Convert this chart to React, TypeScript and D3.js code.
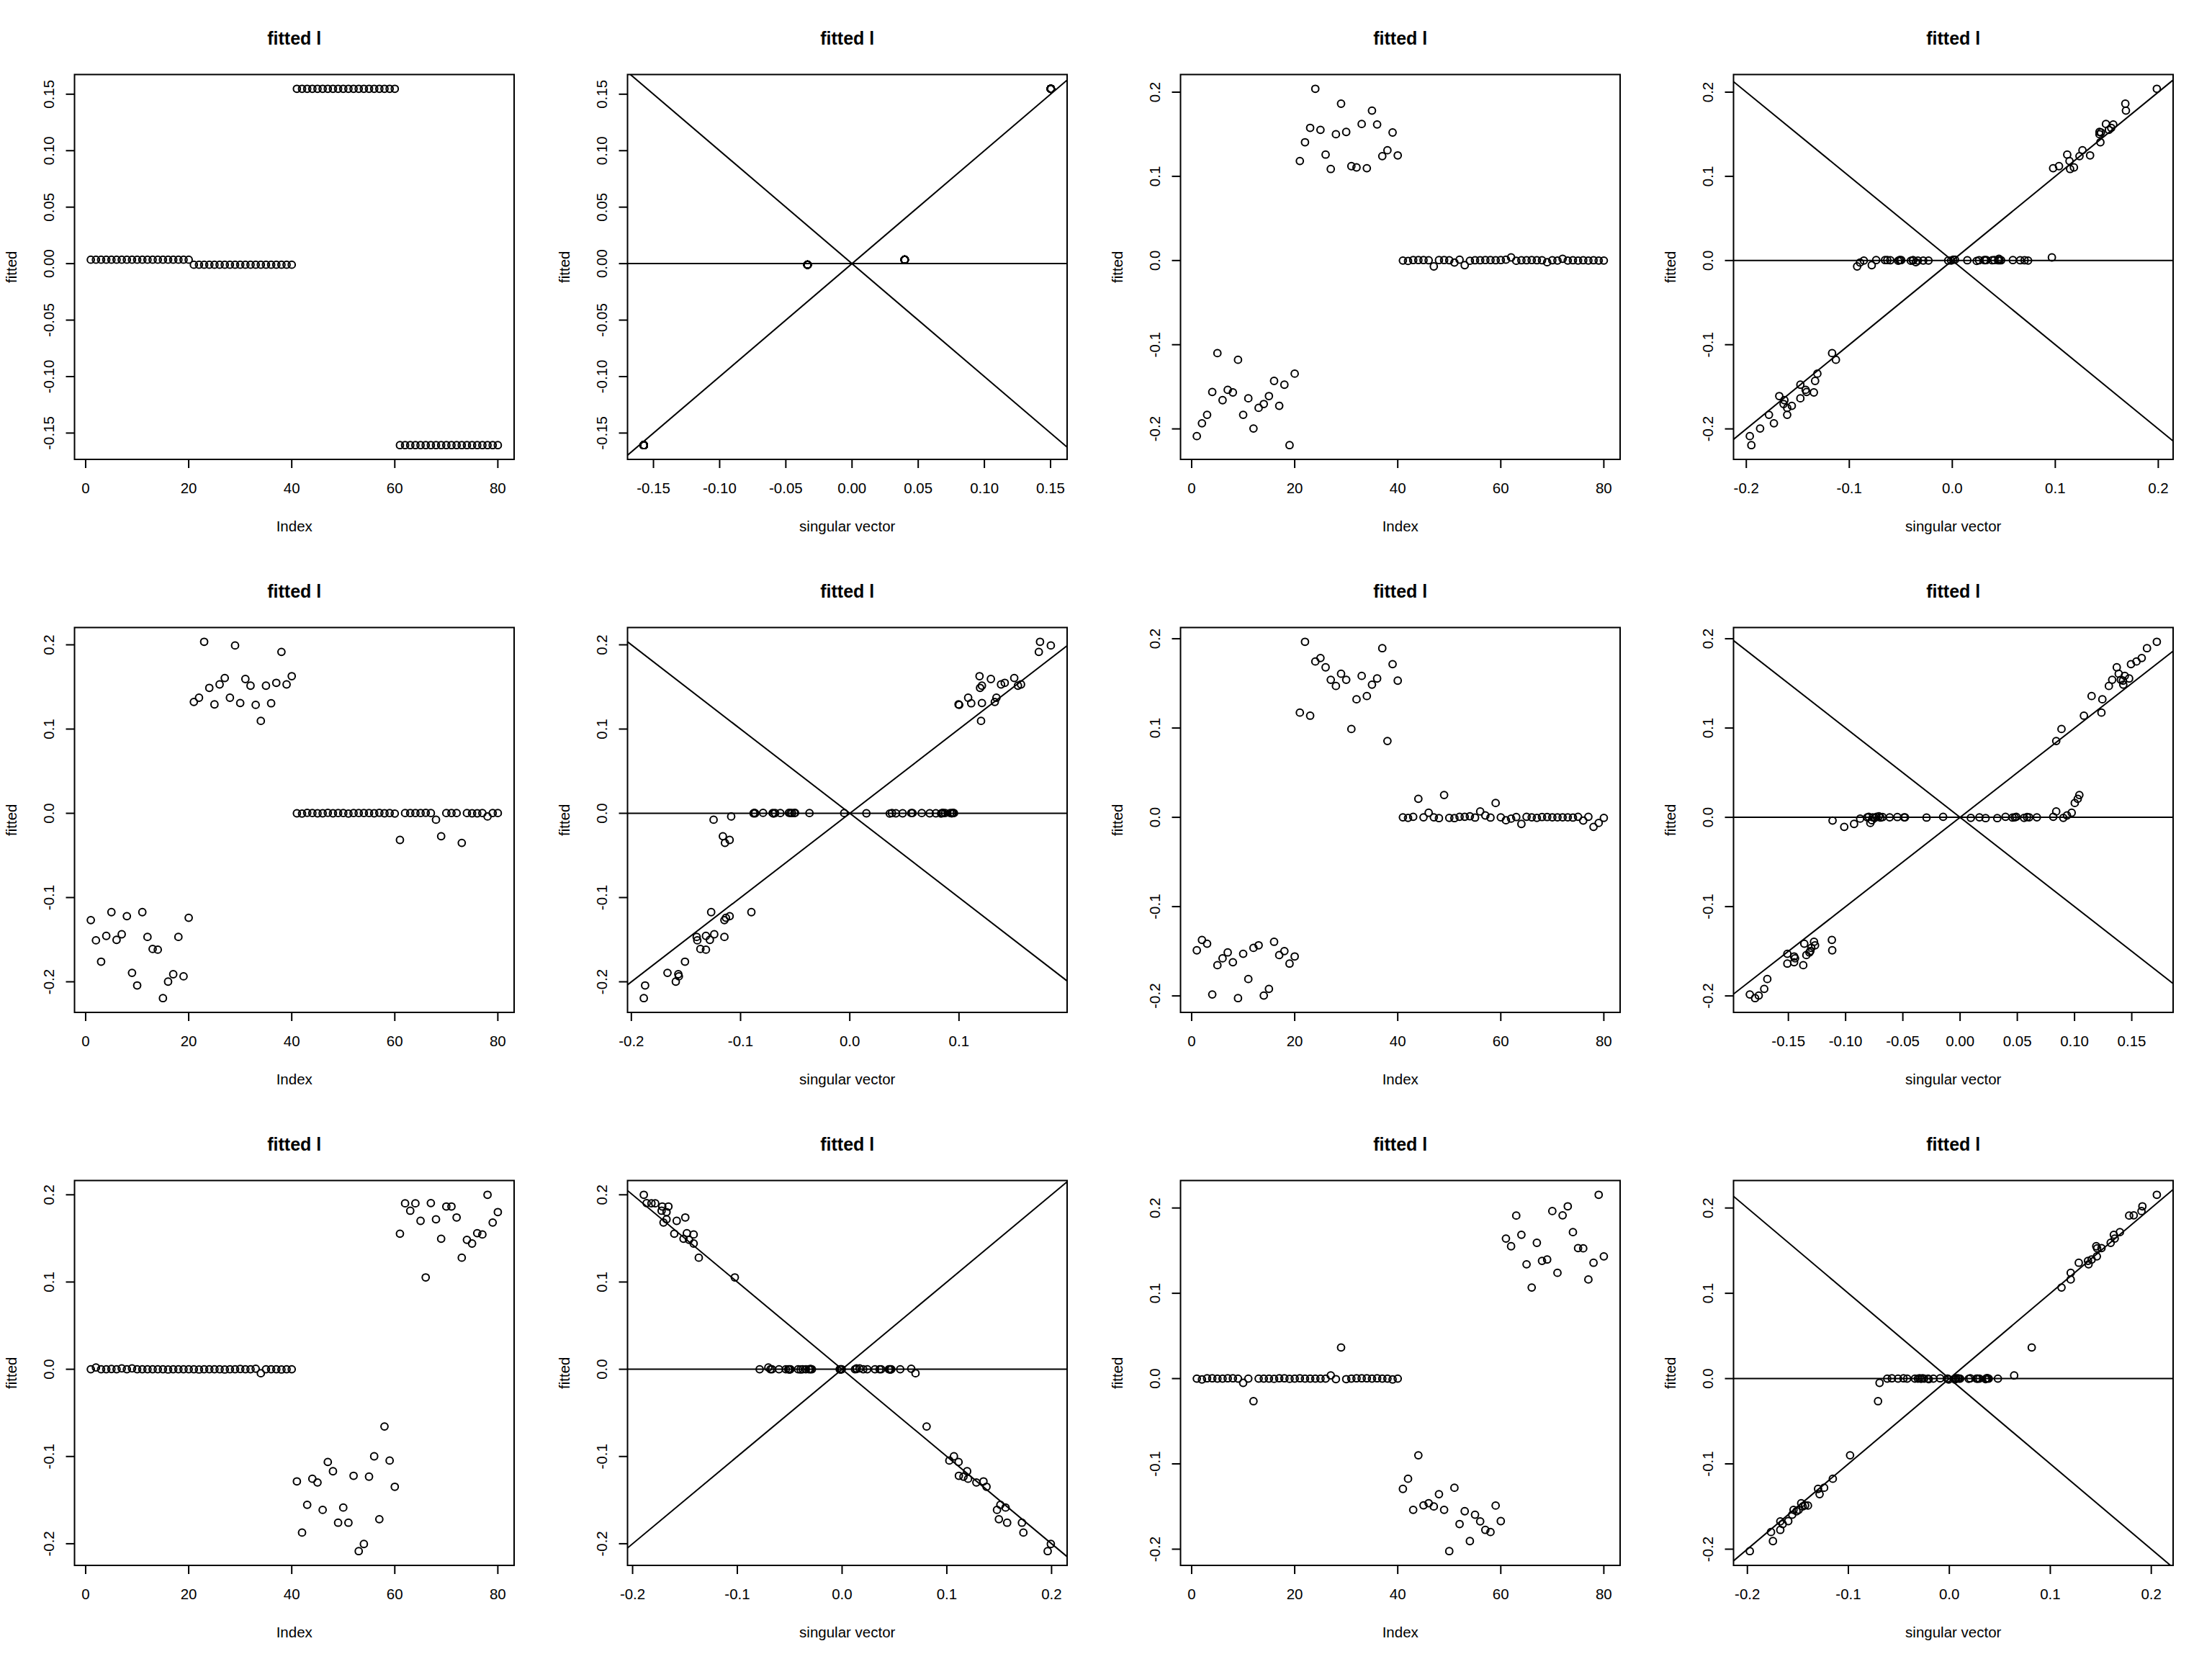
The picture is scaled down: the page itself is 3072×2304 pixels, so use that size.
import React from 'react';
import * as d3 from 'd3';

// fitted values and singular vectors, one pair per (Index, scatter) couple of panels
const fitted1 = [
  0.0035, 0.0035, 0.0035, 0.0035, 0.0035, 0.0035, 0.0035, 0.0035, 0.0035, 0.0035,
  0.0035, 0.0035, 0.0035, 0.0035, 0.0035, 0.0035, 0.0035, 0.0035, 0.0035, 0.0035,
  -0.001, -0.001, -0.001, -0.001, -0.001, -0.001, -0.001, -0.001, -0.001, -0.001,
  -0.001, -0.001, -0.001, -0.001, -0.001, -0.001, -0.001, -0.001, -0.001, -0.001,
  0.1548, 0.1548, 0.1548, 0.1548, 0.1548, 0.1548, 0.1548, 0.1548, 0.1548, 0.1548,
  0.1548, 0.1548, 0.1548, 0.1548, 0.1548, 0.1548, 0.1548, 0.1548, 0.1548, 0.1548,
  -0.1607, -0.1607, -0.1607, -0.1607, -0.1607, -0.1607, -0.1607, -0.1607, -0.1607, -0.1607,
  -0.1607, -0.1607, -0.1607, -0.1607, -0.1607, -0.1607, -0.1607, -0.1607, -0.1607, -0.1607,
];
const singular1 = [
  0.0398, 0.0398, 0.0398, 0.0398, 0.0398, 0.0398, 0.0398, 0.0398, 0.0398, 0.0398,
  0.0398, 0.0398, 0.0398, 0.0398, 0.0398, 0.0398, 0.0398, 0.0398, 0.0398, 0.0398,
  -0.0336, -0.0336, -0.0336, -0.0336, -0.0336, -0.0336, -0.0336, -0.0336, -0.0336, -0.0336,
  -0.0336, -0.0336, -0.0336, -0.0336, -0.0336, -0.0336, -0.0336, -0.0336, -0.0336, -0.0336,
  0.1502, 0.1502, 0.1502, 0.1502, 0.1502, 0.1502, 0.1502, 0.1502, 0.1502, 0.1502,
  0.1502, 0.1502, 0.1502, 0.1502, 0.1502, 0.1502, 0.1502, 0.1502, 0.1502, 0.1502,
  -0.1573, -0.1573, -0.1573, -0.1573, -0.1573, -0.1573, -0.1573, -0.1573, -0.1573, -0.1573,
  -0.1573, -0.1573, -0.1573, -0.1573, -0.1573, -0.1573, -0.1573, -0.1573, -0.1573, -0.1573,
];

const fitted2 = [
  -0.2086, -0.1933, -0.1833, -0.1561, -0.110, -0.1659, -0.1536, -0.1567, -0.1179, -0.1833,
  -0.1637, -0.1995, -0.175, -0.1704, -0.161, -0.143, -0.1726, -0.1475, -0.2193, -0.1344,
  0.1182, 0.1405, 0.1576, 0.204, 0.1552, 0.1258, 0.1087, 0.15, 0.1863, 0.1527,
  0.1121, 0.1106, 0.1622, 0.1097, 0.1781, 0.1616, 0.124, 0.131, 0.1521, 0.1249,
  0, -0.0005, 0.0005, 0.0005, 0.0005, 0.0003, -0.007, 0.0005, 0.0005, 0.0003,
  -0.0024, 0.001, -0.0055, -0.0003, 0.0003, 0.0003, 0.0005, 0.0005, 0.0003, 0.0005,
  0.001, 0.0037, -0.0003, 0.0003, 0.0003, 0.0005, 0.0003, 0.0003, -0.002, 0.0003,
  0, 0.002, 0, 0.0003, 0, 0.0003, 0, 0.0003, 0, 0,
];
const singular2 = [
  -0.1966, -0.1732, -0.178, -0.1415, -0.1167, -0.163, -0.1424, -0.1344, -0.113, -0.1603,
  -0.1475, -0.1866, -0.1603, -0.1638, -0.168, -0.1332, -0.1558, -0.1475, -0.1951, -0.131,
  0.1138, 0.1438, 0.1543, 0.1986, 0.152, 0.1116, 0.1144, 0.1429, 0.168, 0.1429,
  0.1036, 0.1181, 0.1492, 0.0979, 0.1686, 0.1563, 0.1235, 0.1264, 0.1444, 0.1338,
  -0.0859, 0.0237, -0.0739, 0.0408, -0.0653, 0.0146, -0.0924, -0.0631, 0.0588, -0.0602,
  -0.0896, 0.0009, -0.0782, -0.0525, 0.026, -0.0511, 0.0311, -0.0511, 0.0659, -0.0496,
  0.0026, 0.0967, -0.0402, 0.0318, -0.0382, 0.0331, -0.038, 0.0388, -0.0354, 0.0445,
  -0.0334, 0.0453, -0.0282, 0.0459, -0.0231, 0.0474, -0.004, 0.0702, -0.0011, 0.0736,
];

const fitted3 = [
  -0.1268, -0.1508, -0.1761, -0.1455, -0.1173, -0.1502, -0.1436, -0.1221, -0.1894, -0.2043,
  -0.1173, -0.1467, -0.161, -0.1619, -0.2194, -0.1998, -0.191, -0.1467, -0.1935, -0.124,
  0.1322, 0.1372, 0.2036, 0.1489, 0.1293, 0.153, 0.1606, 0.1372, 0.1992, 0.1309,
  0.1594, 0.1515, 0.1287, 0.1097, 0.1515, 0.1306, 0.1549, 0.1916, 0.153, 0.1628,
  0, -0.0003, 0.0005, 0.0003, 0, 0, 0.0005, 0, 0.0003, 0.0003,
  -0.0003, 0.0003, 0.0003, 0.0003, 0.0003, 0, 0.0006, 0, 0.0003, -0.0003,
  -0.0316, 0.0003, 0.0003, 0.0003, 0.0003, 0.0005, 0.0003, -0.0076, -0.0272, 0.0003,
  0.0003, 0.0003, -0.0351, 0.0003, 0, 0, 0.0003, -0.0038, 0.0003, 0.0003,
];
const singular3 = [
  -0.1148, -0.1396, -0.1509, -0.1317, -0.1269, -0.1281, -0.1241, -0.11, -0.1669, -0.1874,
  -0.0901, -0.1402, -0.1368, -0.1317, -0.1886, -0.1593, -0.157, -0.1148, -0.1565, -0.1134,
  0.1328, 0.1084, 0.1742, 0.1193, 0.0996, 0.1385, 0.1506, 0.1343, 0.1841, 0.121,
  0.1292, 0.121, 0.1002, 0.1202, 0.154, 0.1112, 0.1419, 0.1731, 0.1568, 0.1188,
  -0.0881, 0.0366, -0.0873, 0.0386, -0.0867, 0.0422, -0.0794, 0.0484, -0.0706, 0.0563,
  -0.0698, 0.0574, -0.0684, 0.0659, -0.0636, 0.0732, -0.0557, 0.0788, -0.0543, 0.0836,
  -0.11, -0.0529, 0.0844, -0.0507, 0.085, -0.0501, 0.0856, -0.1247, -0.1162, -0.0369,
  0.0873, -0.0051, -0.1143, 0.092, 0.0152, 0.0934, 0.0943, -0.1086, 0.0948, 0.0954,
];

const fitted4 = [
  -0.1489, -0.1373, -0.1415, -0.1984, -0.1656, -0.1579, -0.1513, -0.1623, -0.2025, -0.1528,
  -0.1811, -0.1462, -0.1433, -0.1996, -0.1921, -0.1394, -0.1543, -0.1498, -0.1638, -0.1558,
  0.1173, 0.1966, 0.1138, 0.1745, 0.1784, 0.168, 0.154, 0.1471, 0.1608, 0.154,
  0.0989, 0.1322, 0.1584, 0.1358, 0.1486, 0.1555, 0.1894, 0.0855, 0.1716, 0.1531,
  0, -0.0006, 0.0006, 0.0208, 0, 0.0051, 0, -0.0009, 0.025, -0.0006,
  -0.0009, 0.0006, 0.0006, 0.0012, -0.0003, 0.0066, 0.0021, -0.0003, 0.0161, 0,
  -0.0033, -0.0015, 0.0003, -0.0074, 0.0006, 0, -0.0006, 0.0003, 0.0003, 0,
  0, 0, 0, -0.0003, 0.0006, -0.0036, 0.0006, -0.0107, -0.0063, -0.0006,
];
const singular4 = [
  -0.1117, -0.112, -0.1361, -0.1837, -0.137, -0.1442, -0.1316, -0.145, -0.1791, -0.1509,
  -0.1684, -0.13, -0.1267, -0.1759, -0.1711, -0.1276, -0.1343, -0.1308, -0.1509, -0.145,
  0.1235, 0.1719, 0.1082, 0.1541, 0.1587, 0.1369, 0.1329, 0.13, 0.1386, 0.1404,
  0.0886, 0.1243, 0.1439, 0.1149, 0.1426, 0.1477, 0.1633, 0.084, 0.1493, 0.1423,
  -0.0811, 0.0094, -0.0798, 0.1028, 0.0169, 0.0975, -0.0763, 0.0223, 0.1042, -0.0744,
  0.0325, -0.073, 0.0397, -0.0709, 0.0459, 0.084, 0.0934, -0.0695, 0.1002, 0.0478,
  -0.0771, -0.0873, -0.0677, -0.0926, 0.0491, -0.0615, 0.0559, -0.0548, 0.0585, -0.0489,
  0.0604, -0.0481, 0.0671, -0.0293, 0.0814, -0.1114, -0.0148, -0.1012, -0.0784, 0.0902,
];

const fitted5 = [
  0, 0.002, 0, 0, 0.0003, 0, 0.001, 0, 0.001, 0,
  0, 0, 0, 0, 0, -0.0003, 0, 0, 0, 0,
  0, -0.0003, 0, 0, 0, 0, -0.0003, 0, 0, 0.0003,
  0, 0, 0.0006, -0.0046, 0, 0, 0, -0.0003, 0, 0,
  -0.1285, -0.1872, -0.1554, -0.1255, -0.1298, -0.1612, -0.1063, -0.1169, -0.1759, -0.1585,
  -0.1759, -0.1221, -0.2085, -0.2003, -0.1231, -0.0998, -0.1719, -0.0656, -0.1047, -0.1347,
  0.1554, 0.1902, 0.1817, 0.1902, 0.1701, 0.1053, 0.1905, 0.1719, 0.1496, 0.1866,
  0.1866, 0.174, 0.1279, 0.1484, 0.1441, 0.156, 0.1545, 0.2, 0.1682, 0.1802,
];
const singular5 = [
  -0.0787, -0.0704, 0.0123, -0.0684, 0.0138, -0.0669, 0.0138, -0.0602, 0.0167, -0.0537,
  0.0202, -0.0514, 0.0241, -0.0502, 0.0314, -0.0502, 0.0358, -0.0493, 0.0373, -0.042,
  0.0446, -0.0396, 0.0455, -0.0376, 0.0461, -0.0346, 0.0461, -0.0317, 0.047, -0.0302,
  0.0555, -0.0302, 0.066, 0.0701, -0.0288, -0.0023, -0.0015, -0.0015, -0.0009, -0.0003,
  0.135, 0.1731, 0.1511, 0.1203, 0.1282, 0.1479, 0.1112, 0.1194, 0.1576, 0.1561,
  0.1717, 0.1115, 0.1963, 0.1993, 0.1159, 0.1068, 0.1497, 0.0807, 0.1024, 0.1379,
  -0.1602, -0.182, -0.1723, -0.1784, -0.1579, -0.1024, -0.1866, -0.1676, -0.1514, -0.1717,
  -0.1658, -0.1497, -0.1368, -0.1461, -0.1417, -0.1482, -0.1417, -0.1893, -0.1705, -0.1676,
];

const fitted6 = [
  0, -0.001, 0.0003, 0.0003, 0, 0, 0.0003, 0.0003, 0, -0.005,
  0, -0.0265, 0, 0, 0, -0.0003, 0.0003, 0.0003, -0.0003, 0,
  0.0003, 0, 0, 0, 0, 0, 0.0037, -0.0006, 0.0365, -0.0006,
  0, 0.0003, 0.0003, 0.0003, 0, 0.0003, 0, 0, -0.001, 0,
  -0.1293, -0.1174, -0.1539, -0.0899, -0.1486, -0.1461, -0.1499, -0.1355, -0.1539, -0.2023,
  -0.128, -0.1705, -0.1555, -0.1905, -0.1596, -0.1674, -0.1774, -0.1799, -0.1489, -0.1671,
  0.1642, 0.1552, 0.1911, 0.1686, 0.134, 0.1068, 0.1592, 0.138, 0.1396, 0.1964,
  0.124, 0.1914, 0.202, 0.1717, 0.153, 0.1527, 0.1162, 0.1358, 0.2155, 0.1433,
];
const singular6 = [
  -0.0615, 0.0055, -0.0569, 0.0064, -0.0508, 0.007, -0.0454, 0.0085, -0.0417, -0.0691,
  0.0094, -0.0706, -0.0341, 0.0107, -0.0311, 0.0192, -0.0295, 0.0207, -0.028, 0.0268,
  -0.0265, 0.0277, -0.025, 0.0283, -0.021, 0.0298, 0.0642, -0.0204, 0.0816, 0.0359,
  -0.0158, 0.0368, -0.0091, 0.0374, -0.0021, 0.038, -0.0015, 0.039, -0.0006, 0.0481,
  -0.13, -0.1154, -0.1543, -0.0983, -0.1428, -0.1467, -0.1452, -0.1285, -0.1492, -0.1976,
  -0.124, -0.165, -0.1513, -0.1747, -0.1556, -0.1674, -0.1674, -0.1766, -0.14, -0.1595,
  0.1638, 0.1455, 0.1781, 0.1629, 0.1379, 0.1111, 0.1598, 0.1373, 0.1409, 0.1903,
  0.1202, 0.1826, 0.1912, 0.1689, 0.1507, 0.1464, 0.1202, 0.1282, 0.2055, 0.1461,
];

const pairs = [
  { fitted: fitted1, singular: singular1 },
  { fitted: fitted2, singular: singular2 },
  { fitted: fitted3, singular: singular3 },
  { fitted: fitted4, singular: singular4 },
  { fitted: fitted5, singular: singular5 },
  { fitted: fitted6, singular: singular6 },
];

const WIDTH = 3072;
const HEIGHT = 2304;
const PANEL_W = 768;
const PANEL_H = 768;
const M = { top: 103.5, right: 54, bottom: 130, left: 103.5 };
const FONT = '"Liberation Sans", Arial, Helvetica, sans-serif';
const STROKE = 2;

// R pads the data range by 4% on each side (xaxs = "r")
function padded(values: number[]): [number, number] {
  const [lo, hi] = d3.extent(values) as [number, number];
  const d = (hi - lo) * 0.04;
  return [lo - d, hi + d];
}

// tick positions the way R's axis() picks them (GEPretty, n = 5)
function rTicks(lo: number, hi: number) {
  const cell = (hi - lo) / 5;
  const U = Math.pow(10, Math.floor(Math.log10(cell)));
  let unit = U;
  if (2 * U - cell < 0.8 * (cell - unit)) {
    unit = 2 * U;
    if (5 * U - cell < 1.7 * (cell - unit)) {
      unit = 5 * U;
      if (10 * U - cell < 0.8 * (cell - unit)) unit = 10 * U;
    }
  }
  const ticks: number[] = [];
  for (let k = Math.ceil(lo / unit - 1e-7); k * unit <= hi + 1e-10; k++) ticks.push(k * unit);
  const digits = Math.max(0, -Math.floor(Math.log10(unit) + 1e-9));
  return { ticks, fmt: (v: number) => (Math.abs(v) < 1e-12 ? 0 : v).toFixed(digits) };
}

interface PanelProps {
  id: string;
  x0: number;
  y0: number;
  xs: number[];
  ys: number[];
  xLabel: string;
  diag: boolean;
}

const Panel: React.FC<PanelProps> = ({ id, x0, y0, xs, ys, xLabel, diag }) => {
  const left = M.left;
  const right = PANEL_W - M.right;
  const top = M.top;
  const bottom = PANEL_H - M.bottom;

  const xDom = padded(xs);
  const yDom = padded(ys);
  const x = d3.scaleLinear().domain(xDom).range([left, right]);
  const y = d3.scaleLinear().domain(yDom).range([bottom, top]);
  const xt = rTicks(xDom[0], xDom[1]);
  const yt = rTicks(yDom[0], yDom[1]);

  const line = d3.line<[number, number]>().x(d => x(d[0])).y(d => y(d[1]));
  // abline(0, 1), abline(0, -1), abline(h = 0)
  const abl = [
    [[xDom[0], xDom[0]], [xDom[1], xDom[1]]],
    [[xDom[0], -xDom[0]], [xDom[1], -xDom[1]]],
    [[xDom[0], 0], [xDom[1], 0]],
  ] as [number, number][][];

  return (
    <g transform={`translate(${x0},${y0})`}>
      <defs>
        <clipPath id={`clip-${id}`}>
          <rect x={left} y={top} width={right - left} height={bottom - top} />
        </clipPath>
      </defs>
      <text x={(left + right) / 2} y={62} textAnchor="middle" fontSize={25} fontWeight="bold">
        fitted l
      </text>
      {diag && (
        <g clipPath={`url(#clip-${id})`}>
          {abl.map((seg, i) => (
            <path key={i} d={line(seg) || ''} fill="none" stroke="#000" strokeWidth={STROKE} />
          ))}
        </g>
      )}
      <g>
        {xs.map((v, i) => (
          <circle key={i} cx={x(v)} cy={y(ys[i])} r={4.9} fill="none" stroke="#000" strokeWidth={STROKE} />
        ))}
      </g>
      <rect x={left} y={top} width={right - left} height={bottom - top} fill="none" stroke="#000" strokeWidth={STROKE} />
      {/* x axis */}
      <g>
        {xt.ticks.map(t => (
          <g key={t}>
            <line x1={x(t)} x2={x(t)} y1={bottom} y2={bottom + 12} stroke="#000" strokeWidth={STROKE} />
            <text x={x(t)} y={bottom + 47.3} textAnchor="middle" fontSize={20.5}>
              {xt.fmt(t)}
            </text>
          </g>
        ))}
      </g>
      {/* y axis */}
      <g>
        {yt.ticks.map(t => (
          <g key={t}>
            <line x1={left - 12} x2={left} y1={y(t)} y2={y(t)} stroke="#000" strokeWidth={STROKE} />
            <text
              transform={`translate(${left - 28.9},${y(t)}) rotate(-90)`}
              textAnchor="middle"
              fontSize={20.5}
            >
              {yt.fmt(t)}
            </text>
          </g>
        ))}
      </g>
      <text x={(left + right) / 2} y={bottom + 100} textAnchor="middle" fontSize={20.5}>
        {xLabel}
      </text>
      <text
        transform={`translate(${left - 81},${(top + bottom) / 2}) rotate(-90)`}
        textAnchor="middle"
        fontSize={20.5}
      >
        fitted
      </text>
    </g>
  );
};

const index = d3.range(1, 81);

export default function App() {
  const panels: PanelProps[] = [];
  for (let r = 0; r < 3; r++) {
    for (let c = 0; c < 4; c++) {
      const p = pairs[r * 2 + Math.floor(c / 2)];
      const scatter = c % 2 === 1;
      panels.push({
        id: `p${r}${c}`,
        x0: c * PANEL_W,
        y0: r * PANEL_H,
        xs: scatter ? p.singular : index,
        ys: p.fitted,
        xLabel: scatter ? 'singular vector' : 'Index',
        diag: scatter,
      });
    }
  }
  return (
    <svg
      width={WIDTH}
      height={HEIGHT}
      viewBox={`0 0 ${WIDTH} ${HEIGHT}`}
      style={{ position: 'absolute', left: 0, top: 0, background: '#fff', display: 'block' }}
      fontFamily={FONT}
    >
      <rect width={WIDTH} height={HEIGHT} fill="#fff" />
      {panels.map(pp => (
        <Panel key={pp.id} {...pp} />
      ))}
    </svg>
  );
}
